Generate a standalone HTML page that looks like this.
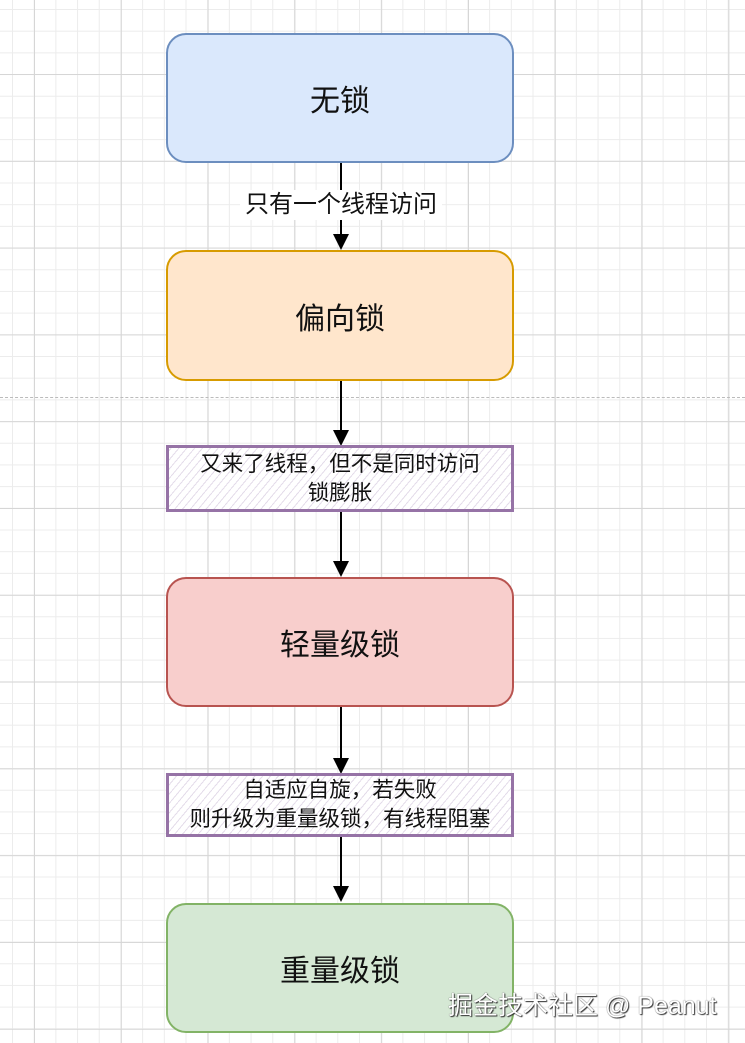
<!DOCTYPE html>
<html><head><meta charset="utf-8"><style>
body{margin:0;width:745px;height:1043px;overflow:hidden;background:#fff;position:relative;font-family:"Liberation Sans","Noto Sans CJK SC",sans-serif;
background-image:linear-gradient(#d6d6d6 1px,transparent 1px),linear-gradient(90deg,#d6d6d6 1px,transparent 1px),linear-gradient(#ececec 1px,transparent 1px),linear-gradient(90deg,#ececec 1px,transparent 1px);
background-size:86.8px 86.8px,86.8px 86.8px,21.7px 21.7px,21.7px 21.7px;
background-position:0 74px,34px 0,0 9px,12px 0;}
.b{position:absolute;left:166px;width:348px;border-radius:20px;border:2px solid;box-sizing:border-box;display:flex;align-items:center;justify-content:center;font-size:30px;color:#111}
.h{position:absolute;left:166px;width:348px;border:3px solid #9673a6;box-sizing:border-box;display:flex;flex-direction:column;align-items:center;justify-content:center;font-size:21.5px;line-height:29px;color:#111;
background:repeating-linear-gradient(-50deg,#fff 0 5px,#e4dcea 5px 6px);}
.l{position:absolute;left:340px;width:2px;background:#000}
.a{position:absolute;left:333px;width:0;height:0;border-left:8px solid transparent;border-right:8px solid transparent;border-top:16px solid #000}
</style></head><body>
<div style="position:absolute;left:0;top:397px;width:745px;border-top:1px dashed #bbb"></div>
<div class="b" style="top:33px;height:130px;background:#dae8fc;border-color:#6c8ebf">无锁</div>
<div class="b" style="top:250px;height:131px;background:#ffe6cc;border-color:#d79b00">偏向锁</div>
<div class="b" style="top:577px;height:130px;background:#f8cecc;border-color:#b85450">轻量级锁</div>
<div class="b" style="top:903px;height:130px;background:#d5e8d4;border-color:#82b366">重量级锁</div>
<div class="l" style="top:163px;height:72px"></div>
<div style="position:absolute;left:240px;width:202px;top:190px;height:30px;background:#fff;text-align:center;font-size:24px;line-height:30px;white-space:nowrap;color:#111">只有一个线程访问</div>
<div class="a" style="top:234px"></div>
<div class="l" style="top:381px;height:50px"></div><div class="a" style="top:430px"></div>
<div class="h" style="top:445px;height:67px"><div>又来了线程，但不是同时访问</div><div>锁膨胀</div></div>
<div class="l" style="top:512px;height:50px"></div><div class="a" style="top:561px"></div>
<div class="l" style="top:707px;height:52px"></div><div class="a" style="top:758px"></div>
<div class="h" style="top:773px;height:64px"><div>自适应自旋，若失败</div><div>则升级为重量级锁，有线程阻塞</div></div>
<div class="l" style="top:837px;height:50px"></div><div class="a" style="top:886px"></div>
<div style="position:absolute;left:448px;top:986px;font-size:25px;color:#fff;white-space:nowrap;text-shadow:0 0 1px #333,1px 1px 1px #333">掘金技术社区 @ Peanut</div>
</body></html>
